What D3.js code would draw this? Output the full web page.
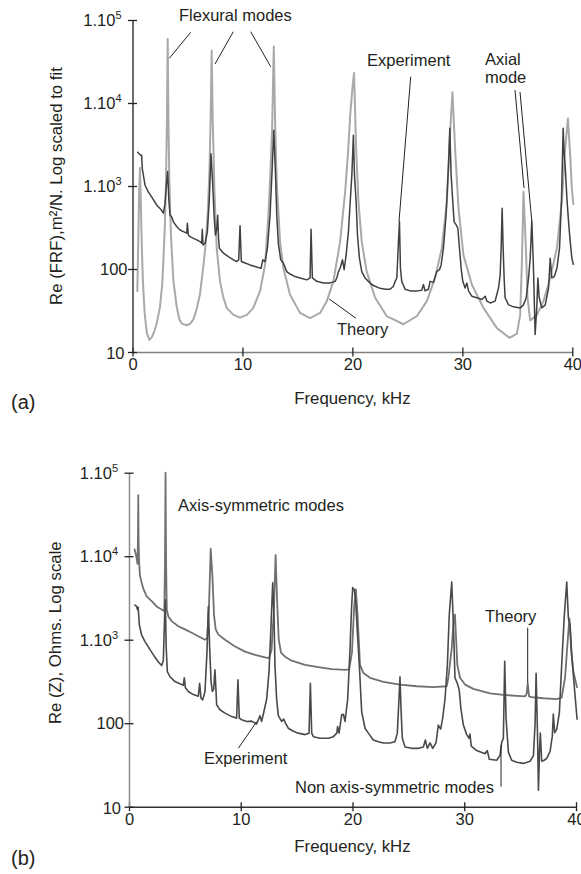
<!DOCTYPE html>
<html>
<head>
<meta charset="utf-8">
<script src="https://cdn.jsdelivr.net/npm/d3@7"></script>
<style>
body { margin: 0; background: #fff; }
text { font-family: "Liberation Sans", Arial, Helvetica, sans-serif; fill: #231f20; }
</style>
</head>
<body>
<svg id="svg" width="581" height="874"></svg>
<script>
// axis ticks (frequency in kHz, magnitude on a log scale)
var freqTicks = [0, 10, 20, 30, 40];
var magTicks = [10, 100, 1000, 10000, 100000];
var magTickBase = ['10', '100', '1.10', '1.10', '1.10'];
var magTickExp = ['', '', '3', '4', '5'];

// (a) receptance FRF, [kHz, m2/N]
var frfTheory = [
  [0.44, 53], [0.52, 200], [0.6, 800], [0.68, 1650], [0.76, 600], [0.85, 180], [0.95, 70], [1.1, 30],
  [1.3, 17], [1.53, 14], [1.75, 15], [2.0, 18], [2.2, 22], [2.5, 35], [2.7, 65], [2.8, 118], [2.95, 350],
  [3.05, 1200], [3.13, 6000], [3.2, 59000], [3.27, 6000], [3.35, 1200], [3.5, 250], [3.71, 74], [4.02, 35],
  [4.25, 25], [4.48, 22], [4.93, 21], [5.25, 22], [5.53, 24.5], [5.84, 33], [6.14, 50], [6.45, 110],
  [6.65, 200], [6.85, 500], [7.0, 1500], [7.1, 6000], [7.2, 43000], [7.3, 6000], [7.45, 900], [7.66, 178],
  [7.96, 71], [8.27, 45], [8.57, 34], [9.18, 28], [9.78, 26], [10.4, 28], [10.99, 34], [11.6, 54],
  [12.06, 113], [12.36, 446], [12.55, 1500], [12.7, 5000], [12.85, 48000], [12.98, 5000], [13.12, 1120],
  [13.42, 212], [13.72, 103], [14.33, 49], [15.24, 29.6], [16.15, 25.6], [17.06, 29.6], [17.67, 41],
  [18.27, 71], [18.88, 212], [19.34, 850], [19.6, 2500], [19.8, 7200], [20.0, 15000], [20.15, 23000],
  [20.34, 2800], [20.55, 650], [20.85, 212], [21.3, 93], [22.07, 45], [23.13, 27], [24.64, 21.6],
  [25.86, 27], [26.77, 41], [27.52, 78], [28.13, 178], [28.59, 650], [28.89, 4470], [29.1, 13500],
  [29.34, 2800], [29.65, 540], [30.1, 147], [30.86, 65], [31.92, 34], [33.14, 19.4], [34.3, 14.8],
  [34.96, 16.6], [35.26, 28], [35.41, 113], [35.56, 850], [35.78, 178], [35.93, 45], [36.17, 24],
  [36.78, 28], [37.38, 41], [37.99, 78], [38.6, 178], [39.05, 650], [39.35, 2800], [39.6, 6500],
  [39.81, 2350], [39.96, 930], [40.1, 590]
];

var frfExperiment = [
  [0.44, 2580], [0.6, 2450], [0.75, 2350], [0.83, 2340], [0.89, 1620], [0.99, 1350], [1.14, 1020],
  [1.44, 850], [1.74, 740], [2.2, 590], [2.65, 510], [2.81, 470], [2.95, 600], [3.08, 1000], [3.2, 1500],
  [3.3, 700], [3.41, 445], [3.56, 425], [3.72, 370], [4.02, 325], [4.32, 295], [4.63, 282], [4.93, 270],
  [4.99, 355], [5.08, 257], [5.23, 245], [5.54, 234], [5.84, 224], [6.14, 214], [6.29, 204], [6.35, 302],
  [6.41, 195], [6.6, 204], [6.81, 282], [6.99, 710], [7.14, 2450], [7.3, 1020], [7.42, 445], [7.54, 257],
  [7.66, 300], [7.75, 445], [7.82, 240], [7.9, 178], [8.27, 155], [8.72, 141], [9.18, 129], [9.48, 123],
  [9.66, 129], [9.78, 333], [9.9, 123], [10.24, 118], [10.69, 112], [11.15, 107], [11.45, 104],
  [11.69, 102], [11.85, 129], [12.06, 123], [12.27, 178], [12.51, 445], [12.69, 1480], [12.85, 4700],
  [13.0, 1480], [13.12, 445], [13.27, 200], [13.48, 129], [13.72, 118], [14.03, 93], [14.33, 87],
  [14.79, 81], [15.24, 78], [15.85, 74], [16.15, 78], [16.24, 302], [16.36, 78], [16.76, 71], [17.37, 68],
  [17.97, 68], [18.43, 71], [18.58, 78], [18.73, 93], [18.88, 102], [19.1, 129], [19.25, 98], [19.43, 148],
  [19.64, 282], [19.8, 645], [19.95, 1350], [20.09, 4100], [20.19, 1350], [20.34, 645], [20.46, 257],
  [20.64, 135], [20.85, 93], [21.15, 78], [21.46, 71], [21.76, 65], [22.07, 62], [22.52, 58.5],
  [22.98, 57], [23.43, 57], [23.73, 62], [23.89, 71], [24.04, 78], [24.19, 214], [24.28, 370],
  [24.37, 102], [24.49, 71], [24.79, 57], [25.25, 54.5], [25.86, 54.5], [26.31, 55.6], [26.46, 65],
  [26.61, 54.5], [26.92, 57], [27.07, 71], [27.37, 69], [27.67, 93], [27.92, 98], [28.07, 112],
  [28.28, 178], [28.52, 445], [28.74, 1780], [28.86, 4950], [28.98, 1350], [29.13, 645], [29.25, 370],
  [29.44, 340], [29.59, 310], [29.74, 178], [29.89, 102], [30.04, 71], [30.25, 59], [30.41, 68],
  [30.56, 54.5], [30.86, 47], [31.32, 45], [31.77, 43], [32.08, 47], [32.23, 41], [32.53, 39],
  [32.98, 41], [33.29, 59], [33.44, 85], [33.53, 178], [33.62, 540], [33.71, 178], [33.8, 78], [33.89, 45],
  [34.2, 37], [34.65, 35], [35.26, 34], [35.56, 37], [35.81, 45], [36.02, 78], [36.17, 135], [36.32, 385],
  [36.47, 100], [36.62, 16.3], [36.78, 37], [36.87, 78], [36.99, 45], [37.23, 34], [37.54, 37],
  [37.84, 59], [37.99, 135], [38.14, 78], [38.36, 81], [38.6, 102], [38.84, 178], [39.02, 710],
  [39.17, 4950], [39.26, 2400], [39.35, 1780], [39.51, 710], [39.66, 370], [39.81, 214], [39.96, 135],
  [40.1, 112]
];

// (b) electrical impedance, [kHz, Ohms]
var zTheory = [
  [0.48, 12300], [0.58, 11000], [0.68, 9500], [0.76, 8100], [0.8, 15000], [0.83, 54000], [0.86, 15000],
  [0.9, 8800], [0.98, 5900], [1.13, 4800], [1.28, 4100], [1.58, 3300], [2.03, 2900], [2.47, 2500],
  [2.92, 2300], [3.16, 2200], [3.22, 8000], [3.27, 100000], [3.32, 8000], [3.38, 2300], [3.52, 1900],
  [3.82, 1670], [4.41, 1450], [5.01, 1330], [5.61, 1210], [6.2, 1100], [6.8, 1000], [7.0, 1050],
  [7.16, 2550], [7.31, 12300], [7.46, 5900], [7.61, 1950], [7.76, 1330], [8.0, 1150], [8.59, 1000],
  [9.49, 830], [10.38, 720], [11.28, 660], [12.17, 615], [12.53, 600], [12.75, 750], [12.95, 2000],
  [13.12, 10300], [13.25, 3000], [13.4, 1000], [13.6, 700], [14.0, 620], [14.56, 560], [15.75, 500],
  [16.94, 470], [18.14, 445], [19.33, 435], [19.7, 440], [19.95, 700], [20.15, 2500], [20.3, 4000],
  [20.45, 2000], [20.67, 500], [20.97, 400], [21.57, 350], [22.76, 312], [24.25, 290], [25.76, 277],
  [27.24, 270], [28.43, 277], [28.58, 350], [28.88, 800], [29.05, 1700], [29.17, 2000], [29.38, 500],
  [29.62, 350], [30.07, 290], [30.81, 258], [32.3, 227], [33.5, 218], [34.69, 213], [35.44, 210],
  [35.59, 227], [35.68, 300], [35.8, 210], [36.04, 205], [37.08, 199], [38.28, 194], [38.72, 203],
  [39.02, 350], [39.23, 870], [39.41, 1800], [39.58, 720], [39.76, 420], [40.1, 265]
];

var zExperiment = [
  [0.48, 2640], [0.6, 2550], [0.69, 2500], [0.75, 2300], [0.82, 2450], [0.93, 1490], [1.13, 1140],
  [1.43, 950], [1.88, 760], [2.33, 615], [2.63, 540], [2.92, 490], [3.07, 560], [3.19, 1950], [3.25, 3000],
  [3.33, 800], [3.43, 415], [3.67, 360], [4.11, 315], [4.71, 290], [4.86, 285], [4.95, 350], [5.04, 268],
  [5.31, 240], [5.76, 220], [6.2, 210], [6.32, 300], [6.44, 200], [6.59, 190], [6.8, 240], [6.98, 720],
  [7.1, 2500], [7.22, 790], [7.34, 316], [7.46, 240], [7.58, 255], [7.69, 435], [7.79, 240], [7.84, 166],
  [8.14, 145], [8.59, 132], [9.19, 120], [9.63, 115], [9.75, 330], [9.87, 115], [10.08, 110],
  [10.53, 105], [10.98, 106], [11.42, 98], [11.72, 123], [11.87, 105], [12.02, 128], [12.32, 195],
  [12.53, 415], [12.71, 1490], [12.86, 4800], [12.98, 1800], [13.06, 500], [13.21, 195], [13.36, 123],
  [13.66, 105], [13.85, 112], [14.0, 100], [14.26, 87], [14.71, 80], [15.15, 76], [15.75, 73],
  [16.11, 76], [16.23, 300], [16.35, 76], [16.5, 69], [17.09, 66], [17.84, 66], [18.29, 69], [18.59, 76],
  [18.67, 91], [18.8, 76], [19.03, 126], [19.18, 128], [19.33, 105], [19.57, 195], [19.78, 790],
  [19.92, 2500], [20.02, 4200], [20.16, 4000], [20.28, 3000], [20.43, 1260], [20.61, 500], [20.82, 138],
  [21.12, 87], [21.42, 76], [21.86, 63], [22.31, 60], [22.76, 58], [23.35, 58], [23.8, 60], [24.01, 76],
  [24.16, 195], [24.25, 360], [24.34, 150], [24.46, 66], [24.7, 52], [25.3, 50], [25.9, 50], [26.34, 52],
  [26.52, 63], [26.7, 50], [26.94, 58], [27.18, 50], [27.47, 58], [27.68, 95], [27.89, 85], [28.07, 115],
  [28.28, 195], [28.49, 500], [28.66, 2000], [28.88, 4900], [29.03, 1500], [29.17, 350], [29.38, 300],
  [29.55, 250], [29.7, 150], [29.92, 95], [30.22, 73], [30.43, 66], [30.51, 74], [30.63, 53], [31.11, 47],
  [31.86, 43], [32.06, 47], [32.24, 37], [32.9, 36], [33.2, 41], [33.35, 59], [33.5, 66], [33.62, 550],
  [33.74, 115], [33.95, 45], [34.24, 36], [34.69, 34], [35.29, 33], [35.89, 35], [36.19, 41], [36.34, 100],
  [36.43, 397], [36.55, 80], [36.64, 15.8], [36.73, 45], [36.81, 76], [36.93, 35], [37.15, 36],
  [37.38, 38], [37.68, 46], [37.88, 70], [37.97, 129], [38.09, 77], [38.28, 85], [38.51, 133], [38.72, 500],
  [38.96, 2000], [39.17, 4900], [39.32, 1800], [39.47, 1500], [39.62, 650], [39.83, 293], [40.1, 110]
];

var svg = d3.select('svg');

function drawPanel(cfg) {
    var x = d3.scaleLinear().domain([0, 40]).range([cfg.left, cfg.right]);
    var y = d3.scaleLog().domain([10, 100000]).range([cfg.bottom, cfg.top]);
    var g = svg.append('g');

    var line = d3.line()
        .x(function (d) { return x(d[0]); })
        .y(function (d) { return y(d[1]); });

    cfg.series.forEach(function (s) {
        g.append('path')
            .datum(s.data)
            .attr('d', line)
            .attr('fill', 'none')
            .attr('stroke', s.color)
            .attr('stroke-width', s.width)
            .attr('stroke-linejoin', 'round');
    });

    // x axis, ticks crossing the line
    var xAxis = g.append('g')
        .attr('transform', 'translate(0,' + cfg.bottom + ')')
        .call(d3.axisBottom(x).tickValues(freqTicks).tickSizeOuter(0));
    xAxis.select('.domain').attr('stroke', cfg.xAxisColor).attr('stroke-width', 1.5);
    xAxis.selectAll('.tick line').attr('y1', -4.5).attr('y2', 4.5).attr('stroke', '#222').attr('stroke-width', 1.3);
    xAxis.selectAll('.tick text').attr('y', 18).attr('dy', 0).style('font-size', '16.5px');

    // y axis
    var yAxis = g.append('g')
        .attr('transform', 'translate(' + cfg.left + ',0)')
        .call(d3.axisLeft(y).tickValues(magTicks).tickFormat('').tickSizeOuter(0));
    yAxis.select('.domain').attr('stroke', cfg.yAxisColor).attr('stroke-width', 1.5);
    yAxis.selectAll('.tick line').attr('x1', -4.5).attr('x2', 4.5).attr('stroke', '#222').attr('stroke-width', 1.3);

    var labs = g.selectAll('.ylab')
        .data(magTicks)
        .join('text')
        .attr('class', 'ylab')
        .attr('text-anchor', 'end')
        .style('font-size', '16.5px')
        .attr('x', function (d, i) { return cfg.left - (magTickExp[i] ? 11 : (i === 0 ? 8 : 5)); })
        .attr('y', function (d, i) { return y(d) + (i === 0 ? 7 : 6); });
    labs.append('tspan').text(function (d, i) { return magTickBase[i]; });
    labs.filter(function (d, i) { return magTickExp[i] !== ''; })
        .append('tspan')
        .attr('dy', -7)
        .style('font-size', '11px')
        .text(function (d) { return magTickExp[magTicks.indexOf(d)]; });

    // axis titles
    g.append('text')
        .attr('transform', 'translate(' + cfg.yTitleX + ',' + ((cfg.top + cfg.bottom) / 2 + cfg.yTitleShift) + ') rotate(-90)')
        .attr('text-anchor', 'middle')
        .attr('dy', '0.35em')
        .style('font-size', '16.8px')
        .text(cfg.yTitle);
    g.append('text')
        .attr('x', (cfg.left + cfg.right) / 2)
        .attr('y', cfg.bottom + cfg.xTitleGap)
        .attr('text-anchor', 'middle')
        .style('font-size', '16.8px')
        .text('Frequency, kHz');
    g.append('text')
        .attr('x', 11)
        .attr('y', cfg.panelLabelY)
        .style('font-size', '20px')
        .text(cfg.panelLabel);

    // annotations
    cfg.notes.forEach(function (n) {
        g.append('text').attr('x', n[1]).attr('y', n[2]).style('font-size', '16.5px').text(n[0]);
    });
    cfg.leaders.forEach(function (l) {
        g.append('line')
            .attr('x1', l[0]).attr('y1', l[1]).attr('x2', l[2]).attr('y2', l[3])
            .attr('stroke', '#222').attr('stroke-width', 1);
    });
}

drawPanel({
    left: 132.5, right: 572.3, top: 20, bottom: 352,
    xAxisColor: '#808080', yAxisColor: '#3a3a3a',
    series: [
        { data: frfTheory, color: '#a9a9a9', width: 2 },
        { data: frfExperiment, color: '#404040', width: 1.5 }
    ],
    yTitle: 'Re (FRF),m\u00b2/N. Log scaled to fit', yTitleX: 56, yTitleShift: 0,
    xTitleGap: 52, panelLabel: '(a)', panelLabelY: 409,
    notes: [
        ['Flexural modes', 179, 21],
        ['Experiment', 367, 66],
        ['Axial', 485, 65],
        ['mode', 485, 83],
        ['Theory', 337, 335]
    ],
    leaders: [
        [190.7, 32.3, 169.3, 58.3],
        [233.3, 31.7, 215, 64],
        [250.7, 31.7, 270.7, 66.7],
        [410.7, 76.7, 399, 221.7],
        [515, 90, 524, 188],
        [520, 92, 531.7, 220],
        [356, 318.3, 329.3, 299]
    ]
});

drawPanel({
    left: 129, right: 576, top: 472.7, bottom: 806.7,
    xAxisColor: '#333333', yAxisColor: '#8a8a8a',
    series: [
        { data: zTheory, color: '#707070', width: 1.8 },
        { data: zExperiment, color: '#4a4a4a', width: 1.6 }
    ],
    yTitle: 'Re (Z), Ohms. Log scale', yTitleX: 55, yTitleShift: -7,
    xTitleGap: 45, panelLabel: '(b)', panelLabelY: 865,
    notes: [
        ['Axis-symmetric modes', 178, 511],
        ['Theory', 485, 622],
        ['Experiment', 204, 764],
        ['Non axis-symmetric modes', 295, 793]
    ],
    leaders: [
        [527.7, 627.7, 527.7, 683],
        [238.3, 748.3, 256.7, 721.7],
        [501, 786.7, 501, 745]
    ]
});
</script>
</body>
</html>
